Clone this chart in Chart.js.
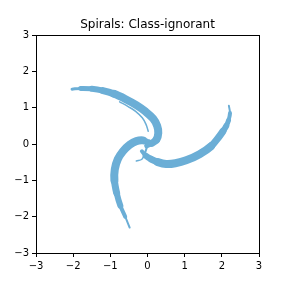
<!DOCTYPE html>
<html>
<head>
<meta charset="utf-8">
<script src="https://cdn.jsdelivr.net/npm/chart.js@4"></script>
<style>
  body { margin: 0; background: #fff; }
  canvas { display: block; }
</style>
</head>
<body>
<canvas id="spiralChart" width="288" height="288"></canvas>
<script>
// Arm centre lines (x, y)
const armTopX = [-2.03, -1.8, -1.5, -1.2, -0.9, -0.6, -0.3, -0.05, 0.15, 0.26, 0.29, 0.24, 0.12, -0.02];
const armTopY = [1.51, 1.53, 1.52, 1.47, 1.38, 1.24, 1.07, 0.89, 0.7, 0.5, 0.3, 0.12, 0.02, -0.05];

const armRightX = [2.19, 2.22, 2.18, 2.12, 2.03, 1.94, 1.71, 1.4, 1.04, 0.75, 0.5, 0.28, 0.1, -0.05, -0.15];
const armRightY = [1.05, 0.85, 0.65, 0.5, 0.35, 0.22, -0.06, -0.28, -0.45, -0.53, -0.55, -0.5, -0.42, -0.32, -0.2];

const armBottomX = [-0.48, -0.6, -0.73, -0.83, -0.89, -0.88, -0.8, -0.66, -0.48, -0.3, -0.12, 0.02];
const armBottomY = [-2.3, -2.0, -1.7, -1.35, -1.0, -0.7, -0.42, -0.2, -0.02, 0.08, 0.1, 0.05];

// thin loose strands next to the arms
const strandTopX = [-0.75, -0.52, -0.32, -0.14, -0.04, 0.02];
const strandTopY = [1.16, 1.03, 0.9, 0.72, 0.54, 0.35];
const strandMidX = [-0.02, -0.08, -0.15, -0.3];
const strandMidY = [-0.1, -0.28, -0.42, -0.47];

const axisTicks = [-3, -2, -1, 0, 1, 2, 3];
const chartTitle = 'Spirals: Class-ignorant';

const toPoints = (xs, ys) => xs.map((x, i) => ({ x: x, y: ys[i] }));
const blue = '#6baed6';

function band(xs, ys, widths) {
    return {
        data: toPoints(xs, ys),
        showLine: true,
        pointRadius: 0,
        borderColor: blue,
        borderWidth: widths[0],
        borderCapStyle: 'round',
        borderJoinStyle: 'round',
        tension: 0.35,
        segment: {
            borderWidth: ctx => widths[ctx.p0DataIndex]
        }
    };
}

// outer box (top and right spines) and a title centred over the axes
const framePlugin = {
    id: 'frame',
    afterDraw(chart) {
        const a = chart.chartArea;
        const ctx = chart.ctx;
        ctx.save();
        ctx.strokeStyle = '#000';
        ctx.lineWidth = 1;
        ctx.strokeRect(Math.round(a.left) + 0.5, Math.round(a.top) + 0.5,
            Math.round(a.right - a.left), Math.round(a.bottom - a.top));
        ctx.fillStyle = '#000';
        ctx.font = '12px "DejaVu Sans"';
        ctx.textAlign = 'center';
        ctx.textBaseline = 'alphabetic';
        ctx.fillText(chartTitle, (a.left + a.right) / 2, a.top - 7);
        ctx.restore();
    }
};

const tickFont = { family: 'DejaVu Sans', size: 10 };
const minus = v => String(v).replace('-', '\u2212');

function axis(fitKey, fitVal) {
    return {
        type: 'linear',
        min: -3,
        max: 3,
        afterBuildTicks: scale => { scale.ticks = axisTicks.map(v => ({ value: v })); },
        afterFit: scale => { scale[fitKey] = fitVal; },
        grid: { drawOnChartArea: false, drawTicks: true, tickLength: 4, color: '#000' },
        border: { display: true, color: '#000', width: 1 },
        ticks: { color: '#000', font: tickFont, padding: 3, callback: minus }
    };
}

new Chart(document.getElementById('spiralChart').getContext('2d'), {
    type: 'scatter',
    data: {
        datasets: [
            band(armTopX, armTopY, [3, 5, 6, 7, 8, 8, 8, 8, 8, 8, 8, 7, 5, 3]),
            band(armRightX, armRightY, [2, 4, 5, 6, 7, 7, 8, 8, 8, 8, 8, 7, 6, 4, 2]),
            band(armBottomX, armBottomY, [2, 4, 6, 7, 8, 8, 8, 8, 8, 8, 6, 4]),
            band(strandTopX, strandTopY, [1.5, 1.5, 1.5, 1.5, 1.5, 1.5]),
            band(strandMidX, strandMidY, [2, 1.5, 1.5, 1.5])
        ]
    },
    options: {
        responsive: false,
        animation: false,
        layout: { padding: { left: 0, right: 29, top: 35, bottom: 0 } },
        plugins: {
            legend: { display: false },
            tooltip: { enabled: false },
            title: { display: false }
        },
        scales: {
            x: axis('height', 35),
            y: axis('width', 36)
        }
    },
    plugins: [framePlugin]
});
</script>
</body>
</html>
